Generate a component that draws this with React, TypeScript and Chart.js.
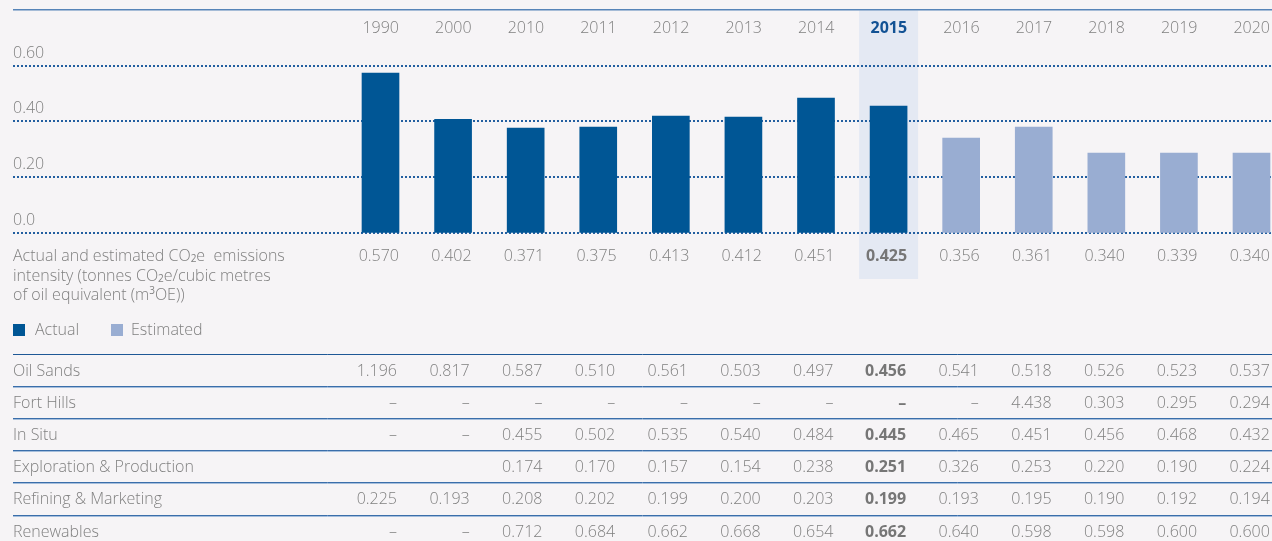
import React, { useEffect, useRef } from 'react';
import { Chart, registerables } from 'chart.js';

Chart.register(...registerables);

// ---------- data ----------
const years = ['1990', '2000', '2010', '2011', '2012', '2013', '2014', '2015', '2016', '2017', '2018', '2019', '2020'];
// bar heights as drawn in the picture
const barHeights = [0.573, 0.407, 0.375, 0.379, 0.418, 0.415, 0.483, 0.454, 0.339, 0.379, 0.285, 0.285, 0.285];
const estimatedFlags = [false, false, false, false, false, false, false, false, true, true, true, true, true];
// printed intensity values
const intensityLabels = ['0.570', '0.402', '0.371', '0.375', '0.413', '0.412', '0.451', '0.425', '0.356', '0.361', '0.340', '0.339', '0.340'];
const yTickValues = [0, 0.2, 0.4, 0.6];
const yTickLabels = ['0.0', '0.20', '0.40', '0.60'];
const highlightIndex = 7;

const rowLabels = ['Oil Sands', 'Fort Hills', 'In Situ', 'Exploration & Production', 'Refining & Marketing', 'Renewables'];
const oilSands = ['1.196', '0.817', '0.587', '0.510', '0.561', '0.503', '0.497', '0.456', '0.541', '0.518', '0.526', '0.523', '0.537'];
const fortHills = ['–', '–', '–', '–', '–', '–', '–', '–', '–', '4.438', '0.303', '0.295', '0.294'];
const inSitu = ['–', '–', '0.455', '0.502', '0.535', '0.540', '0.484', '0.445', '0.465', '0.451', '0.456', '0.468', '0.432'];
const explorationProduction = ['', '', '0.174', '0.170', '0.157', '0.154', '0.238', '0.251', '0.326', '0.253', '0.220', '0.190', '0.224'];
const refiningMarketing = ['0.225', '0.193', '0.208', '0.202', '0.199', '0.200', '0.203', '0.199', '0.193', '0.195', '0.190', '0.192', '0.194'];
const renewables = ['–', '–', '0.712', '0.684', '0.662', '0.668', '0.654', '0.662', '0.640', '0.598', '0.598', '0.600', '0.600'];
const tableRows = [oilSands, fortHills, inSitu, explorationProduction, refiningMarketing, renewables];

const legendLabels = ['Actual', 'Estimated'];

// ---------- styles ----------
const BG = 'rgb(246,244,246)';
const ACTUAL = 'rgb(0,86,149)';
const ESTIMATED = 'rgb(153,173,210)';
const TEXT = 'rgb(128,128,128)';
const BOLD_TEXT = 'rgb(118,118,118)';
const HIGHLIGHT = 'rgb(228,233,243)';
const HIGHLIGHT_TEXT = 'rgb(18,82,148)';
const FONT = '"Open Sans", "Liberation Sans", sans-serif';
const REG = `300 16px ${FONT}`;
const BOLD = `bold 16px ${FONT}`;

type Part = { t: string; k?: 'sub' | 'sup' };

function drawRich(ctx: CanvasRenderingContext2D, x: number, y: number, parts: Part[]) {
  let cx = x;
  for (const p of parts) {
    if (p.k === 'sub') {
      ctx.font = `400 10px ${FONT}`;
      ctx.fillText(p.t, cx, y + 3);
    } else if (p.k === 'sup') {
      ctx.font = `400 10px ${FONT}`;
      ctx.fillText(p.t, cx, y - 4);
    } else {
      ctx.font = REG;
      ctx.fillText(p.t, cx, y);
    }
    cx += ctx.measureText(p.t).width;
  }
}

const tablePlugin = {
  id: 'tablePlugin',
  beforeDraw(chart: any) {
    const ctx: CanvasRenderingContext2D = chart.ctx;
    const xs = chart.scales.x;
    const ys = chart.scales.y;
    const W = chart.width;
    ctx.save();
    ctx.fillStyle = BG;
    ctx.fillRect(0, 0, W, chart.height);

    // highlight band
    const hx = xs.getPixelForValue(highlightIndex);
    ctx.fillStyle = HIGHLIGHT;
    ctx.fillRect(hx - 29.5, 10.5, 59, 268.5);

    // top rule
    ctx.strokeStyle = 'rgb(86,132,184)';
    ctx.lineWidth = 1.5;
    ctx.beginPath();
    ctx.moveTo(13, 9.75);
    ctx.lineTo(W, 9.75);
    ctx.stroke();

    // dotted gridlines + y labels
    ctx.font = REG;
    ctx.textBaseline = 'middle';
    ctx.textAlign = 'left';
    yTickValues.forEach((v, i) => {
      const py = Math.round(ys.getPixelForValue(v));
      ctx.strokeStyle = 'rgb(35,95,160)';
      ctx.lineWidth = 2;
      ctx.setLineDash([2, 2]);
      ctx.beginPath();
      ctx.moveTo(13, py);
      ctx.lineTo(W, py);
      ctx.stroke();
      ctx.setLineDash([]);
      ctx.fillStyle = TEXT;
      ctx.fillText(yTickLabels[i], 13, py - 13);
    });
    ctx.restore();
  },
  afterDraw(chart: any) {
    const ctx: CanvasRenderingContext2D = chart.ctx;
    const xs = chart.scales.x;
    const W = chart.width;
    ctx.save();
    ctx.textBaseline = 'middle';

    // year labels and intensity values
    years.forEach((yr, i) => {
      const cx = xs.getPixelForValue(i);
      const hl = i === highlightIndex;
      ctx.textAlign = 'right';
      ctx.font = hl ? BOLD : REG;
      ctx.fillStyle = hl ? HIGHLIGHT_TEXT : TEXT;
      ctx.fillText(yr, cx + 18.5, 28.5);
      ctx.fillStyle = hl ? BOLD_TEXT : TEXT;
      ctx.fillText(intensityLabels[i], cx + 18.5, 256.5);
    });

    // description
    ctx.textAlign = 'left';
    ctx.fillStyle = TEXT;
    drawRich(ctx, 13, 256.5, [{ t: 'Actual and estimated CO' }, { t: '2', k: 'sub' }, { t: 'e  emissions' }]);
    drawRich(ctx, 13, 276, [{ t: 'intensity (tonnes CO' }, { t: '2', k: 'sub' }, { t: 'e/cubic metres' }]);
    drawRich(ctx, 13, 295.5, [{ t: 'of oil equivalent (m' }, { t: '3', k: 'sup' }, { t: 'OE))' }]);

    // legend
    ctx.font = REG;
    ctx.fillStyle = ACTUAL;
    ctx.fillRect(13, 324, 12, 12);
    ctx.fillStyle = TEXT;
    ctx.fillText(legendLabels[0], 35, 330.5);
    ctx.fillStyle = ESTIMATED;
    ctx.fillRect(111, 324, 12, 12);
    ctx.fillStyle = TEXT;
    ctx.fillText(legendLabels[1], 131, 330.5);

    // table
    const top = 354;
    const rowH = 32.1;
    ctx.strokeStyle = 'rgb(30,88,150)';
    ctx.lineWidth = 1;
    ctx.beginPath();
    ctx.moveTo(13, top + 0.5);
    ctx.lineTo(W, top + 0.5);
    ctx.stroke();
    rowLabels.forEach((lab, r) => {
      const cy = top + 17.5 + r * rowH;
      ctx.textAlign = 'left';
      ctx.font = REG;
      ctx.fillStyle = TEXT;
      ctx.fillText(lab, 13, cy);
      tableRows[r].forEach((val, i) => {
        if (!val) return;
        const cx = xs.getPixelForValue(i);
        const hl = i === highlightIndex;
        ctx.textAlign = 'right';
        ctx.font = hl ? BOLD : REG;
        ctx.fillStyle = hl ? BOLD_TEXT : TEXT;
        const off = 16.5 + i * 0.15;
        ctx.fillText(val, cx + off, cy);
      });
      if (r < rowLabels.length - 1) {
        const ly = Math.round(top + (r + 1) * rowH);
        ctx.strokeStyle = 'rgb(58,110,170)';
        ctx.beginPath();
        ctx.moveTo(13, ly + 0.5);
        ctx.lineTo(W, ly + 0.5);
        ctx.stroke();
        ctx.strokeStyle = 'rgb(165,190,220)';
        ctx.beginPath();
        ctx.moveTo(13, ly + 1.5);
        ctx.lineTo(W, ly + 1.5);
        ctx.stroke();
      }
    });
    ctx.restore();
  },
};

export default function App() {
  const canvasRef = useRef<HTMLCanvasElement | null>(null);

  useEffect(() => {
    document.body.style.margin = '0';
    const canvas = canvasRef.current;
    if (!canvas) return;
    const actualData = barHeights.map((v, i) => (estimatedFlags[i] ? null : v));
    const estimatedData = barHeights.map((v, i) => (estimatedFlags[i] ? v : null));
    const chart = new Chart(canvas, {
      type: 'bar',
      data: {
        labels: years,
        datasets: [
          { label: legendLabels[0], data: actualData, backgroundColor: ACTUAL, barThickness: 37, grouped: false, clip: false } as any,
          { label: legendLabels[1], data: estimatedData, backgroundColor: ESTIMATED, barThickness: 37, grouped: false, clip: false } as any,
        ],
      },
      options: {
        animation: false,
        responsive: false,
        maintainAspectRatio: false,
        devicePixelRatio: 1,
        layout: { padding: { left: 380.5, right: 20.5, top: 65.5, bottom: 541 - 232.5 } },
        scales: {
          x: { type: 'category', display: false, offset: false },
          y: { display: false, min: 0, max: 0.6 },
        },
        plugins: { legend: { display: false }, tooltip: { enabled: false } },
        events: [],
      },
      plugins: [tablePlugin],
    });
    return () => chart.destroy();
  }, []);

  return (
    <div style={{ position: 'fixed', left: 0, top: 0, width: 1272, height: 541, background: BG }}>
      <canvas ref={canvasRef} width={1272} height={541} style={{ display: 'block', width: 1272, height: 541 }} />
    </div>
  );
}
